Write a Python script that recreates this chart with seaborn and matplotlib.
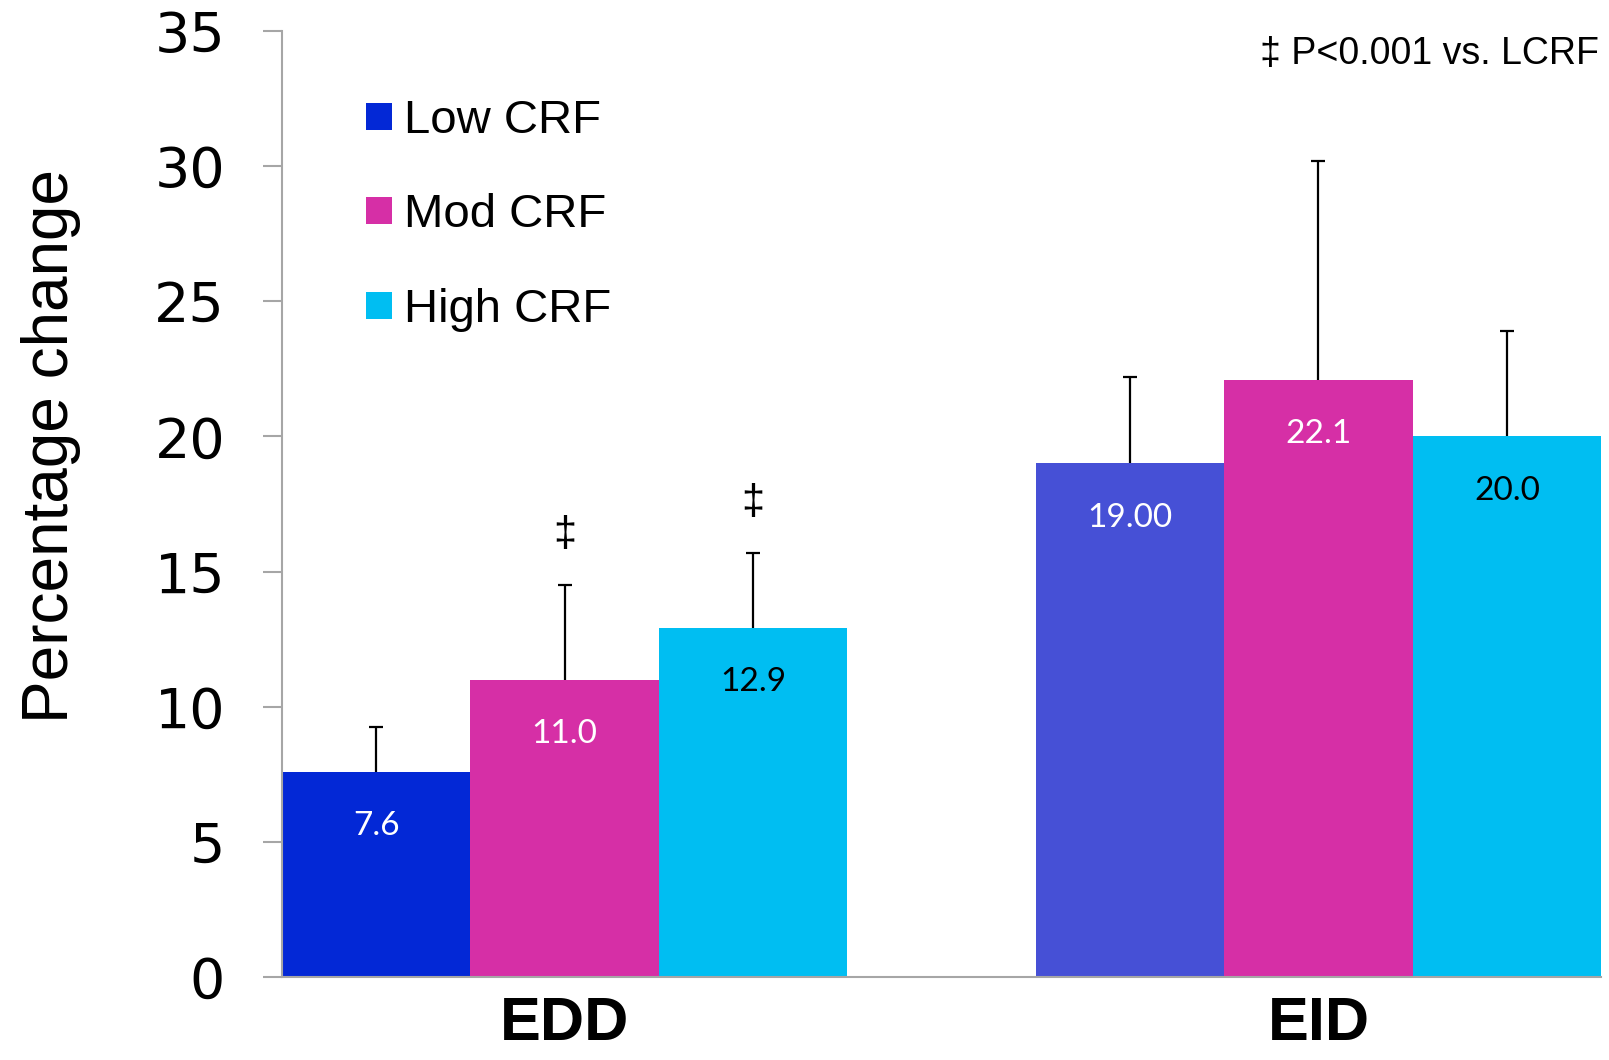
import matplotlib
matplotlib.use("Agg")
import matplotlib.pyplot as plt
import seaborn as sns
import pandas as pd

# ---- data ----
categories = ["EDD", "EID"]
groups = ["Low CRF", "Mod CRF", "High CRF"]
low_vals = [7.6, 19.0]
mod_vals = [11.0, 22.1]
high_vals = [12.9, 20.0]
low_err = [1.66, 3.2]
mod_err = [3.5, 8.08]
high_err = [2.78, 3.88]
low_labels = ["7.6", "19.00"]
mod_labels = ["11.0", "22.1"]
high_labels = ["12.9", "20.0"]
low_marks = ["", ""]
mod_marks = ["\u2021", ""]
high_marks = ["\u2021", ""]
yticks = [0, 5, 10, 15, 20, 25, 30, 35]
note = "\u2021 P<0.001 vs. LCRF"
ylabel = "Percentage change"

group_colors = {"Low CRF": "#0328D6", "Mod CRF": "#D62FA6", "High CRF": "#00BEF2"}
bar_colors = {"Low CRF": ["#0328D6", "#4650D6"],
              "Mod CRF": ["#D62FA6", "#D62FA6"],
              "High CRF": ["#00BEF2", "#00BEF2"]}
label_colors = {"Low CRF": "white", "Mod CRF": "white", "High CRF": "black"}

df = pd.DataFrame({
    "category": categories * 3,
    "group": [g for g in groups for _ in categories],
    "value": low_vals + mod_vals + high_vals,
    "err": low_err + mod_err + high_err,
    "label": low_labels + mod_labels + high_labels,
    "mark": low_marks + mod_marks + high_marks,
})

sns.set_theme(style="white")
plt.rcParams["font.family"] = ["Liberation Sans", "DejaVu Sans"]
plt.rcParams["text.color"] = "black"
plt.rcParams["axes.labelcolor"] = "black"
plt.rcParams["xtick.color"] = "black"
plt.rcParams["ytick.color"] = "black"

fig = plt.figure(figsize=(16.09, 10.60), dpi=100)
ax = fig.add_axes([0.1753, 0.0783, 0.8198, 0.8926])

sns.barplot(data=df, x="category", y="value", hue="group", order=categories,
            hue_order=groups, palette=group_colors, width=0.75, gap=0,
            errorbar=None, saturation=1, ax=ax, linewidth=0)

for cont, g in zip(ax.containers, groups):
    sub = df[df["group"] == g].set_index("category").loc[categories]
    for bar, col, (cat, row) in zip(cont, bar_colors[g], sub.iterrows()):
        bar.set_facecolor(col)
        cx = bar.get_x() + bar.get_width() / 2
        top = bar.get_height()
        eb = ax.errorbar(cx, top, yerr=[[0], [row["err"]]], fmt="none",
                         ecolor="black", elinewidth=1.6, capsize=5, capthick=1.6,
                         zorder=1)
        caps = eb.lines[1]
        if len(caps) > 1:
            caps[0].set_visible(False)
        ax.annotate(row["label"], (cx, top), xytext=(0, -39), textcoords="offset points",
                    ha="center", va="center", fontsize=24, color=label_colors[g],
                    family=["Lato", "DejaVu Sans"])
        if row["mark"]:
            ax.annotate(row["mark"], (cx, top + row["err"]), xytext=(0, 36),
                        textcoords="offset points", ha="center", va="center",
                        fontsize=30, color="black")

ax.set_xlim(-0.375, 1.375)
ax.set_ylim(0, 35)
ax.set_yticks(yticks)
ax.set_yticklabels([str(t) for t in yticks], fontsize=40, family=["DejaVu Sans"])
ax.tick_params(axis="y", length=14, width=1.5, color="#A6A6A6", pad=27, left=True,
               labelcolor="black")
ax.tick_params(axis="x", length=0, pad=14, labelcolor="black")
for t in ax.get_xticklabels():
    t.set_fontsize(44)
    t.set_fontweight("bold")
ax.set_xlabel("")
ax.set_ylabel(ylabel, fontsize=46, va="center", color="black")
ax.yaxis.set_label_coords(-0.175, 0.561)

for s in ["top", "right"]:
    ax.spines[s].set_visible(False)
for s in ["left", "bottom"]:
    ax.spines[s].set_color("#A6A6A6")
    ax.spines[s].set_linewidth(1.5)

handles, labels = ax.get_legend_handles_labels()
leg = ax.legend(handles, labels, loc="upper left", bbox_to_anchor=(0.064, 0.928),
                frameon=False, fontsize=34, handlelength=0.55, handleheight=0.5,
                handletextpad=0.25, labelspacing=1.07, borderpad=0, borderaxespad=0)
for t in leg.get_texts():
    t.set_color("black")

fig.text(0.9938, 0.949, note, ha="right", va="center", fontsize=27, color="black")

fig.savefig("out.png", dpi=100)
